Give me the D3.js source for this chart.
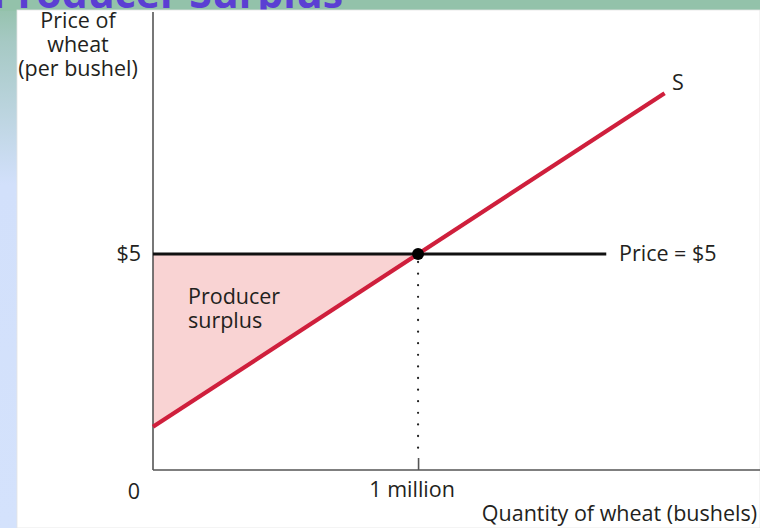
<!DOCTYPE html>
<html>
<head>
<meta charset="utf-8">
<script src="https://cdn.jsdelivr.net/npm/d3@7"></script>
<style>
  body { margin: 0; padding: 0; background: #fff; }
  svg { display: block; }
  text { font-family: "Open Sans", "Noto Sans", sans-serif; fill: #231f20; }
</style>
</head>
<body>
<div id="chart"></div>
<script>
var width = 760,
    height = 528;

// data
var supplyQ = [0, 1.93];        // million bushels
var supplyP = [1, 8.72];        // dollars per bushel
var marketPrice = 5;
var priceLineEnd = 1.71;
var eqQ = 1;
var xTickVals = [1];
var xTickLabels = ["1 million"];
var yTickVals = [5];
var yTickLabels = ["$5"];

var svg = d3.select("#chart")
  .append("svg")
  .attr("width", width)
  .attr("height", height);

var defs = svg.append("defs");
var grad = defs.append("linearGradient")
  .attr("id", "bg")
  .attr("x1", 0).attr("y1", 0).attr("x2", 0).attr("y2", 1);
grad.append("stop").attr("offset", "0%").attr("stop-color", "#92c1a8");
grad.append("stop").attr("offset", "8%").attr("stop-color", "#a6c9c4");
grad.append("stop").attr("offset", "35%").attr("stop-color", "#d2e0fb");
grad.append("stop").attr("offset", "100%").attr("stop-color", "#d4e2fc");

defs.append("clipPath").attr("id", "topband")
  .append("rect").attr("width", width).attr("height", 10);

svg.append("rect")
  .attr("width", width).attr("height", height)
  .attr("fill", "url(#bg)");
svg.append("rect")
  .attr("width", width).attr("height", 11)
  .attr("fill", "#93c2aa");

// title, only its lower edge shows above the white panel
svg.append("g")
  .attr("clip-path", "url(#topband)")
  .append("text")
  .attr("x", -8).attr("y", 8)
  .style("font-size", "41px")
  .style("font-weight", "bold")
  .style("fill", "#5b3fd3")
  .text("Producer Surplus");

svg.append("rect")
  .attr("x", 17).attr("y", 10)
  .attr("width", width - 17).attr("height", height - 10)
  .attr("fill", "#ffffff")
  .attr("stroke", "#e4e4e4")
  .attr("stroke-width", 0.8);

var x = d3.scaleLinear().domain([0, 2.29]).range([153, 760]);
var y = d3.scaleLinear().domain([0, 10.6]).range([470, 12]);

// producer surplus area
var tri = [[0, marketPrice], [eqQ, marketPrice], [supplyQ[0], supplyP[0]]];
svg.append("path")
  .attr("d", d3.line().x(function(d) { return x(d[0]); }).y(function(d) { return y(d[1]); })(tri) + "Z")
  .attr("fill", "#f9d3d3");

// dotted drop line
svg.append("line")
  .attr("x1", x(eqQ)).attr("x2", x(eqQ))
  .attr("y1", y(marketPrice) + 8).attr("y2", y(0) - 12)
  .attr("stroke", "#222")
  .attr("stroke-width", 2.2)
  .attr("stroke-linecap", "round")
  .attr("stroke-dasharray", "0.1,11.5");

// axes
var xAxis = svg.append("g")
  .attr("transform", "translate(0," + y(0) + ")")
  .call(d3.axisBottom(x).tickValues(xTickVals).tickSize(-12).tickFormat(""));
xAxis.select(".domain").attr("d", "M" + x(0) + ",0H" + width);
xAxis.selectAll("path, line").attr("stroke", "#555").attr("stroke-width", 1.6);

var yAxis = svg.append("g")
  .attr("transform", "translate(" + x(0) + ",0)")
  .call(d3.axisLeft(y).tickValues(yTickVals).tickSize(0).tickFormat(""));
yAxis.select(".domain").attr("d", "M0," + y(0) + "V" + y(10.6));
yAxis.selectAll("path, line").attr("stroke", "#555").attr("stroke-width", 1.6);

// price line
svg.append("line")
  .attr("x1", x(0)).attr("x2", x(priceLineEnd))
  .attr("y1", y(marketPrice)).attr("y2", y(marketPrice))
  .attr("stroke", "#111")
  .attr("stroke-width", 3);

// supply curve
svg.append("line")
  .attr("x1", x(supplyQ[0])).attr("y1", y(supplyP[0]))
  .attr("x2", x(supplyQ[1])).attr("y2", y(supplyP[1]))
  .attr("stroke", "#cf1f3c")
  .attr("stroke-width", 4.2);

// equilibrium point
svg.append("circle")
  .attr("cx", x(eqQ)).attr("cy", y(marketPrice))
  .attr("r", 6)
  .attr("fill", "#000");

// labels
var fs = "21.5px";

var yTitle = ["Price of", "wheat", "(per bushel)"];
svg.selectAll(".ytitle")
  .data(yTitle)
  .enter().append("text")
  .attr("class", "ytitle")
  .attr("x", 78)
  .attr("y", function(d, i) { return 28 + i * 24; })
  .attr("text-anchor", "middle")
  .style("font-size", fs)
  .text(function(d) { return d; });

svg.selectAll(".ytick")
  .data(yTickVals)
  .enter().append("text")
  .attr("class", "ytick")
  .attr("x", 141)
  .attr("y", function(d) { return y(d) + 7; })
  .attr("text-anchor", "end")
  .style("font-size", fs)
  .text(function(d, i) { return yTickLabels[i]; });

svg.append("text")
  .attr("x", 134).attr("y", 499)
  .attr("text-anchor", "middle")
  .style("font-size", fs)
  .text("0");

svg.selectAll(".xtick")
  .data(xTickVals)
  .enter().append("text")
  .attr("class", "xtick")
  .attr("x", function(d) { return x(d) - 6; })
  .attr("y", 497)
  .attr("text-anchor", "middle")
  .style("font-size", fs)
  .text(function(d, i) { return xTickLabels[i]; });

svg.append("text")
  .attr("x", 757).attr("y", 521)
  .attr("text-anchor", "end")
  .style("font-size", fs)
  .text("Quantity of wheat (bushels)");

svg.append("text")
  .attr("x", 619).attr("y", y(marketPrice) + 7)
  .style("font-size", fs)
  .text("Price = $5");

svg.append("text")
  .attr("x", 672).attr("y", 90)
  .style("font-size", fs)
  .text("S");

svg.selectAll(".ps")
  .data(["Producer", "surplus"])
  .enter().append("text")
  .attr("class", "ps")
  .attr("x", 188)
  .attr("y", function(d, i) { return 304 + i * 24; })
  .style("font-size", fs)
  .text(function(d) { return d; });
</script>
</body>
</html>
